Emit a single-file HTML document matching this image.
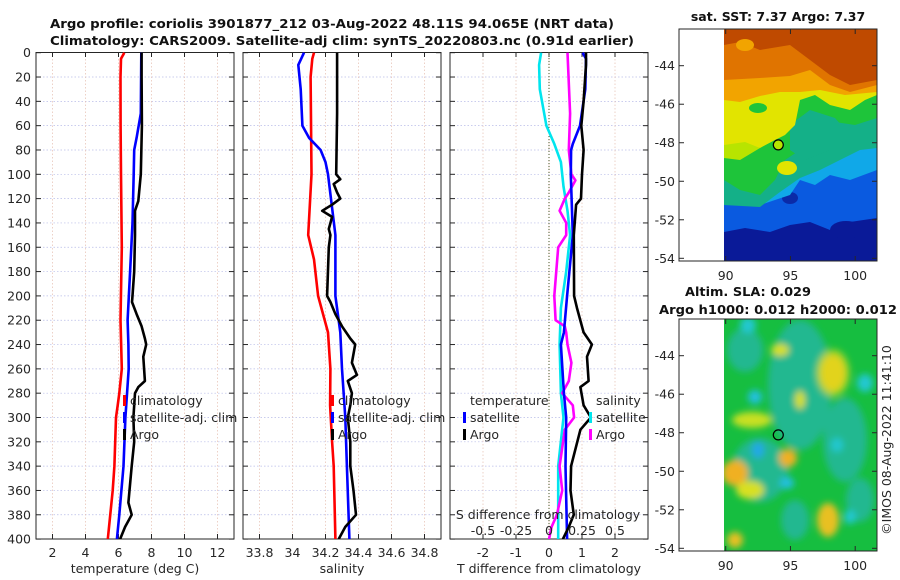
<!DOCTYPE html>
<html><head><meta charset="utf-8">
<style>
html,body{margin:0;padding:0;background:#fff;}
svg{display:block;font-family:"DejaVu Sans","Liberation Sans",sans-serif;}
</style></head>
<body>
<svg id="fig" width="900" height="580" viewBox="0 0 900 580" xmlns="http://www.w3.org/2000/svg">
<defs>
<clipPath id="c1"><rect x="36" y="52" width="198" height="487"/></clipPath>
<clipPath id="c2"><rect x="243" y="52" width="198" height="487"/></clipPath>
<clipPath id="c3"><rect x="450" y="52" width="198" height="487"/></clipPath>
<clipPath id="m1"><rect x="724" y="29" width="153" height="232"/></clipPath>
<clipPath id="m2"><rect x="724" y="319" width="153" height="232"/></clipPath>
<filter id="blur" x="-20%" y="-20%" width="140%" height="140%"><feGaussianBlur stdDeviation="3.5"/></filter>
</defs>
<g font-weight="bold" font-size="12.5" fill="#111">
<text x="50" y="28" textLength="564" lengthAdjust="spacingAndGlyphs">Argo profile: coriolis 3901877_212 03-Aug-2022 48.11S 94.065E (NRT data)</text>
<text x="50" y="45" textLength="584" lengthAdjust="spacingAndGlyphs">Climatology: CARS2009. Satellite-adj clim: synTS_20220803.nc (0.91d earlier)</text>
<text x="778" y="21" text-anchor="middle">sat. SST: 7.37 Argo: 7.37</text>
<text x="685" y="296" textLength="126" lengthAdjust="spacingAndGlyphs">Altim. SLA: 0.029</text>
<text x="659" y="314" textLength="238" lengthAdjust="spacingAndGlyphs">Argo h1000: 0.012 h2000: 0.012</text>
</g>

<!-- SST map -->
<g>
<g clip-path="url(#m1)">
<rect x="724" y="29" width="153" height="232" fill="#0a1a98"/>
<polygon fill="#0a5ae0" points="724,29 877,29 877,218 850,222 830,230 810,222 790,225 770,232 745,228 724,232"/>
<ellipse cx="846" cy="230" rx="16" ry="9" fill="#0a1a98"/>
<ellipse cx="790" cy="198" rx="8" ry="6" fill="#0a2aa8"/>
<polygon fill="#10a8e8" points="724,29 877,29 877,170 850,180 830,175 815,185 800,180 790,195 775,200 760,205 745,198 724,200"/>
<polygon fill="#14b088" points="724,29 877,29 877,148 860,150 840,160 820,170 800,178 780,192 760,207 724,205"/>
<polygon fill="#1ec43a" points="724,29 877,29 877,118 855,125 835,122 815,135 800,150 785,160 775,180 760,195 740,190 724,180"/>
<polygon fill="#14b088" points="790,125 810,110 835,118 850,135 830,150 805,160 790,150"/>
<polygon fill="#e2e400" points="724,29 877,29 877,95 865,100 850,110 830,105 815,95 800,100 795,125 785,135 775,140 760,148 745,145 724,150"/>
<polygon fill="#b8e400" points="724,145 745,142 760,148 740,160 724,158"/>
<ellipse cx="787" cy="168" rx="10" ry="7" fill="#e2e400"/>
<ellipse cx="758" cy="108" rx="9" ry="5" fill="#1ec43a"/>
<polygon fill="#f2a400" points="724,29 877,29 877,92 845,95 820,90 800,92 780,92 760,96 740,102 724,100"/>
<polygon fill="#e07400" points="724,29 877,29 877,85 850,92 830,85 810,70 790,76 760,78 724,80"/>
<polygon fill="#bf4a00" points="724,29 877,29 877,80 850,85 830,75 810,60 790,45 760,50 740,42 724,45"/>
<ellipse cx="745" cy="45" rx="9" ry="6" fill="#f2a400"/>
</g>
<circle cx="778.3" cy="144.9" r="5" fill="#b8e400" stroke="#000" stroke-width="1.2"/>
<rect x="679" y="29" width="198" height="232" fill="none" stroke="#262626" stroke-width="1"/>
</g>

<!-- SLA map -->
<g>
<g clip-path="url(#m2)">
<rect x="724" y="319" width="153" height="232" fill="#16be40"/>
<g filter="url(#blur)">
<ellipse cx="800" cy="385" rx="32" ry="65" fill="#24b890"/>
<ellipse cx="760" cy="470" rx="28" ry="32" fill="#24b890"/>
<ellipse cx="845" cy="440" rx="22" ry="42" fill="#24b890"/>
<ellipse cx="745" cy="350" rx="18" ry="22" fill="#24b890"/>
<ellipse cx="860" cy="500" rx="14" ry="22" fill="#24b890"/>
<ellipse cx="795" cy="520" rx="14" ry="20" fill="#24b890"/>
<ellipse cx="833" cy="373" rx="13" ry="19" fill="#f0c020"/>
<ellipse cx="833" cy="373" rx="17" ry="24" fill="#d8e020" opacity="0.6"/>
<ellipse cx="735" cy="473" rx="13" ry="13" fill="#f0b020"/>
<ellipse cx="750" cy="490" rx="14" ry="9" fill="#d8e020"/>
<ellipse cx="788" cy="458" rx="9" ry="9" fill="#f0b020"/>
<ellipse cx="828" cy="520" rx="11" ry="17" fill="#e8c020"/>
<ellipse cx="752" cy="420" rx="20" ry="8" fill="#c8e020"/>
<ellipse cx="780" cy="350" rx="9" ry="6" fill="#d8e020"/>
<ellipse cx="800" cy="400" rx="5" ry="9" fill="#d8e020"/>
<ellipse cx="865" cy="383" rx="8" ry="9" fill="#20c8d0"/>
<ellipse cx="755" cy="397" rx="7" ry="7" fill="#20c0e0"/>
<ellipse cx="758" cy="450" rx="6" ry="8" fill="#20a8e8"/>
<ellipse cx="787" cy="483" rx="7" ry="6" fill="#20c0e0"/>
<ellipse cx="850" cy="517" rx="6" ry="7" fill="#20c8d0"/>
<ellipse cx="837" cy="445" rx="6" ry="7" fill="#20c8d0"/>
<ellipse cx="748" cy="325" rx="8" ry="8" fill="#20c8d0"/>
<ellipse cx="735" cy="540" rx="8" ry="8" fill="#e8c020"/>
</g>
</g>
<circle cx="778.3" cy="434.9" r="5" fill="none" stroke="#000" stroke-width="1.2"/>
<rect x="679" y="319" width="198" height="232" fill="none" stroke="#262626" stroke-width="1"/>
</g>

<g id="dyn"></g>
<text transform="translate(891,440) rotate(-90)" text-anchor="middle" font-size="12.5" fill="#262626">©IMOS 08-Aug-2022 11:41:10</text>
</svg>
<script>
const depthTicks=[0,20,40,60,80,100,120,140,160,180,200,220,240,260,280,300,320,340,360,380,400];
const tempTicks=[2,4,6,8,10,12];
const salTicks=[33.8,34,34.2,34.4,34.6,34.8];
const salTickLabels=["33.8","34","34.2","34.4","34.6","34.8"];
const diffTicks=[-2,-1,0,1,2];
const sDiffTicks=[-0.5,-0.25,0,0.25,0.5];
const sDiffTickLabels=["-0.5","-0.25","0","0.25","0.5"];
const latTicks=[-44,-46,-48,-50,-52,-54];
const lonTicks=[90,95,100];

const climTdepth=[0,5,20,60,100,160,220,260,280,290,300,340,360,400];
const climT=[6.35,6.15,6.12,6.13,6.15,6.2,6.12,6.2,6.05,5.95,5.85,5.75,5.65,5.35];
const satTdepth=[0,50,70,80,100,140,180,220,240,260,300,340,380,400];
const satT=[7.38,7.35,7.1,6.95,6.92,6.85,6.7,6.55,6.6,6.62,6.42,6.3,6.05,5.9];
const argoTdepth=[0,20,60,100,115,122,130,150,180,200,205,215,225,235,240,250,260,270,275,280,300,320,340,370,380,390,400];
const argoT=[7.4,7.4,7.42,7.35,7.25,7.2,7.0,7.0,6.95,6.85,6.82,7.1,7.4,7.6,7.68,7.5,7.55,7.6,7.2,7.0,6.9,6.95,6.8,6.6,6.8,6.4,6.1];

const climSdepth=[0,5,20,100,150,170,200,230,260,290,320,340,400];
const climS=[34.13,34.12,34.11,34.115,34.095,34.13,34.155,34.215,34.23,34.228,34.24,34.25,34.26];
const satSdepth=[0,10,30,60,70,80,90,100,150,200,230,260,300,340,400];
const satS=[34.07,34.035,34.05,34.06,34.1,34.17,34.2,34.215,34.26,34.26,34.29,34.3,34.32,34.33,34.345];
const argoSdepth=[0,50,100,104,108,115,120,125,130,135,145,150,160,200,205,215,225,235,240,255,265,270,280,290,300,320,340,360,380,390,400];
const argoS=[34.27,34.27,34.265,34.29,34.25,34.27,34.29,34.24,34.18,34.24,34.22,34.23,34.22,34.21,34.23,34.26,34.3,34.35,34.38,34.36,34.39,34.335,34.36,34.35,34.335,34.35,34.35,34.37,34.385,34.32,34.28];

const satSdiffDepth=[0,10,30,60,75,90,110,130,150,180,210,240,280,300,340,400];
const satSdiff=[-0.06,-0.075,-0.07,-0.02,0.04,0.09,0.11,0.14,0.16,0.13,0.09,0.08,0.09,0.11,0.07,0.07];
const argoSdiffDepth=[0,50,80,100,105,115,120,130,140,150,160,200,220,225,230,240,255,270,280,290,300,310,340,360,380,390,400];
const argoSdiff=[0.14,0.16,0.15,0.17,0.2,0.15,0.12,0.08,0.13,0.13,0.07,0.04,0.05,0.12,0.13,0.14,0.17,0.15,0.1,0.18,0.19,0.12,0.08,0.1,0.06,0.02,0.0];
const satTdiffDepth=[0,5,30,60,75,80,100,150,200,230,240,280,300,340,400];
const satTdiff=[1.02,1.12,1.1,0.94,0.72,0.67,0.66,0.72,0.55,0.45,0.36,0.45,0.52,0.5,0.55];
const argoTdiffDepth=[0,10,40,60,80,100,120,125,150,200,210,230,240,250,270,275,290,300,310,340,360,380,390,400];
const argoTdiff=[1.12,1.12,1.05,0.98,1.05,1.0,0.97,0.82,0.75,0.76,0.85,1.05,1.3,1.15,1.2,0.95,1.05,1.27,0.95,0.67,0.65,0.75,0.6,0.42];

const NS="http://www.w3.org/2000/svg";
const root=document.getElementById('dyn');
function mk(tag,attrs,parent){const e=document.createElementNS(NS,tag);for(const k in attrs)e.setAttribute(k,attrs[k]);(parent||root).appendChild(e);return e;}
const Y0=52.7, YK=1.216;
function yD(d){return Y0+d*YK;}
const panels=[
 {x0:36,min:1,max:13,clip:'c1'},
 {x0:243,min:33.7,max:34.9,clip:'c2'},
 {x0:450,min:-3,max:3,clip:'c3'}];
const W=198;
function xf(p,v){return p.x0+(v-p.min)/(p.max-p.min)*W;}
function xsd(v){return xf(panels[2],v*4);}

panels.forEach((p,i)=>{
 const g=mk('g',{});
 
 
 const vt=i==0?tempTicks:(i==1?salTicks:diffTicks);
 depthTicks.forEach(d=>{const l=mk('line',{x1:p.x0,x2:p.x0+W,y1:yD(d),y2:yD(d),stroke:'#b8bce8','stroke-width':0.7,'stroke-dasharray':'1.5,2'},g);
  });
 vt.forEach(v=>{const l=mk('line',{x1:xf(p,v),x2:xf(p,v),y1:52,y2:539,stroke:'#e6beb0','stroke-width':0.7,'stroke-dasharray':'1.5,2'},g);
  });
 depthTicks.forEach(d=>{mk('line',{x1:p.x0,x2:p.x0+5,y1:yD(d),y2:yD(d),stroke:'#262626','stroke-width':1},g);
  mk('line',{x1:p.x0+W-5,x2:p.x0+W,y1:yD(d),y2:yD(d),stroke:'#262626','stroke-width':1},g);});
 vt.forEach(v=>{mk('line',{x1:xf(p,v),x2:xf(p,v),y1:52,y2:57,stroke:'#262626'},g);mk('line',{x1:xf(p,v),x2:xf(p,v),y1:534,y2:539,stroke:'#262626'},g);});
 vt.forEach((v,k)=>{const t=mk('text',{x:xf(p,v),y:557,'text-anchor':'middle','font-size':12.5,fill:'#262626'},g);
  t.textContent=i==1?salTickLabels[k]:String(v);
  });
 mk('rect',{x:p.x0,y:52.5,width:W,height:486.5,fill:'none',stroke:'#262626','stroke-width':1},g);
});
depthTicks.forEach(d=>{const t=mk('text',{x:31,y:yD(d)+4.5,'text-anchor':'end','font-size':12.5,fill:'#262626'});t.textContent=d;
 });
[['temperature (deg C)',135,'temperature-axis-title'],['salinity',342,'salinity-axis-title'],['T difference from climatology',549,'t-diff-axis-title']].forEach(a=>{
 const t=mk('text',{x:a[1],y:573,'text-anchor':'middle','font-size':12.5,fill:'#262626'});t.textContent=a[0];
 });
const zl=mk('line',{x1:xf(panels[2],0),x2:xf(panels[2],0),y1:52,y2:539,stroke:'#4a5a2a','stroke-width':1,'stroke-dasharray':'1,2'});


function series(depths,vals,xfun,color,clip,name){
 const pts=depths.map((d,k)=>xfun(vals[k]).toFixed(1)+','+yD(d).toFixed(1)).join(' ');
 const pl=mk('polyline',{points:pts,fill:'none',stroke:color,'stroke-width':2.6,'stroke-linejoin':'round','clip-path':'url(#'+clip+')'});
 
 
}
const P=panels;
series(climTdepth,climT,v=>xf(P[0],v),'#ff0000','c1','clim-temperature-line');
series(satTdepth,satT,v=>xf(P[0],v),'#0000ff','c1','sat-temperature-line');
series(argoTdepth,argoT,v=>xf(P[0],v),'#000000','c1','argo-temperature-line');
series(climSdepth,climS,v=>xf(P[1],v),'#ff0000','c2','clim-salinity-line');
series(satSdepth,satS,v=>xf(P[1],v),'#0000ff','c2','sat-salinity-line');
series(argoSdepth,argoS,v=>xf(P[1],v),'#000000','c2','argo-salinity-line');
series(satSdiffDepth,satSdiff,xsd,'#00e5ee','c3','sat-salinity-diff-line');
series(argoSdiffDepth,argoSdiff,xsd,'#ff00ff','c3','argo-salinity-diff-line');
series(satTdiffDepth,satTdiff,v=>xf(P[2],v),'#0000ff','c3','sat-temperature-diff-line');
series(argoTdiffDepth,argoTdiff,v=>xf(P[2],v),'#000000','c3','argo-temperature-diff-line');

const sl=mk('text',{x:548,y:519,'text-anchor':'middle','font-size':12.5,fill:'#262626'});sl.textContent='S difference from climatology';

sDiffTicks.forEach((v,k)=>{const t=mk('text',{x:xsd(v),y:535,'text-anchor':'middle','font-size':12.5,fill:'#262626'});t.textContent=sDiffTickLabels[k];
 });

function legEntry(x,y,color,label,name){
 const g=mk('g',{});
 
 
 if(color) mk('rect',{x:x-7,y:y-10,width:3,height:11,fill:color},g);
 const t=mk('text',{x:x,y:y,'font-size':12.5,fill:'#262626'},g);t.textContent=label;
}
legEntry(130,405,'#ff0000','climatology','legend-temp-climatology');
legEntry(130,422,'#0000ff','satellite-adj. clim','legend-temp-satellite');
legEntry(130,439,'#000000','Argo','legend-temp-argo');
legEntry(338,405,'#ff0000','climatology','legend-sal-climatology');
legEntry(338,422,'#0000ff','satellite-adj. clim','legend-sal-satellite');
legEntry(338,439,'#000000','Argo','legend-sal-argo');
legEntry(470,405,null,'temperature','legend-tdiff-header');
legEntry(470,422,'#0000ff','satellite','legend-tdiff-satellite');
legEntry(470,439,'#000000','Argo','legend-tdiff-argo');
legEntry(596,405,null,'salinity','legend-sdiff-header');
legEntry(596,422,'#00e5ee','satellite','legend-sdiff-satellite');
legEntry(596,439,'#ff00ff','Argo','legend-sdiff-argo');

function mapAxes(top,latBase){
 const lonX=v=>725.7+(v-90)*12.95;
 const latY=v=>latBase+(-44-v)*19.26;
 latTicks.forEach(v=>{const y=latY(v);
  mk('line',{x1:679,x2:684,y1:y,y2:y,stroke:'#262626'});mk('line',{x1:872,x2:877,y1:y,y2:y,stroke:'#262626'});
  const t=mk('text',{x:675,y:y+4.5,'text-anchor':'end','font-size':12.5,fill:'#262626'});t.textContent=String(v);
  });
 lonTicks.forEach(v=>{const x=lonX(v);
  mk('line',{x1:x,x2:x,y1:top+227,y2:top+232,stroke:'#262626'});mk('line',{x1:x,x2:x,y1:top,y2:top+5,stroke:'#262626'});
  const t=mk('text',{x:x,y:top+251,'text-anchor':'middle','font-size':12.5,fill:'#262626'});t.textContent=String(v);
  });
}
mapAxes(29,65.7);
mapAxes(319,355.7);
</script>
</body></html>
